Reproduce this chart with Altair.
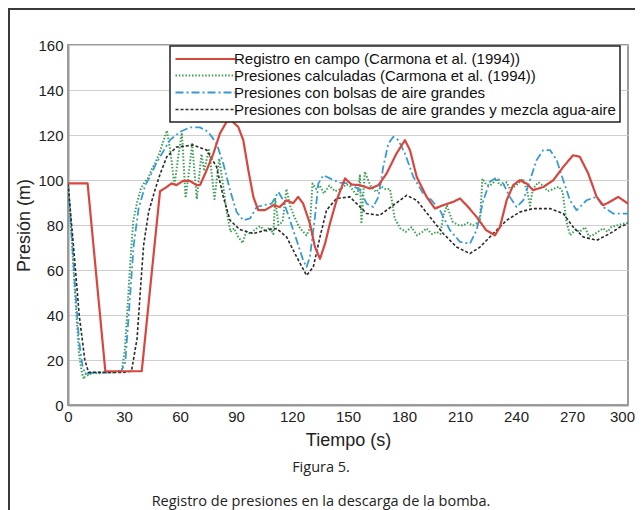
import altair as alt
import pandas as pd

series_names = [
    "Registro en campo (Carmona et al. (1994))",
    "Presiones calculadas (Carmona et al. (1994))",
    "Presiones con bolsas de aire grandes",
    "Presiones con bolsas de aire grandes y mezcla agua-aire",
]
series_colors = ["#d7463f", "#3f9f55", "#3a9bd2", "#2b2b2b"]
series_dashes = [[1, 0], [1.5, 1.8], [8, 3, 2, 3], [3, 2]]
series_widths = [2.2, 1.6, 1.7, 1.8]

x_ticks = [0, 30, 60, 90, 120, 150, 180, 210, 240, 270, 300]
y_ticks = [0, 20, 40, 60, 80, 100, 120, 140, 160]

# Registro en campo
campo_t = [0, 10.5, 20, 39.5, 49.3, 52.9, 55.5, 58, 61.7, 65.3, 68.9, 70.7, 74.3, 77.9, 81.4, 85,
           87.7, 91.2, 93.9, 96.6, 99.3, 101.9, 105.5, 110, 113.5, 117, 120.6, 123.3, 126, 129.6,
           132.3, 135, 137.7, 140.3, 143.9, 148.4, 151.9, 156.4, 161.8, 166.3, 170.7, 176, 180.5,
           183.2, 186.8, 192.1, 196.6, 201, 206.4, 210, 213.5, 218.9, 224, 228.7, 231.4, 235, 238.5,
           242, 245.7, 249.2, 254.6, 260, 265.3, 270.6, 274.2, 278.7, 283.2, 286.7, 290.3, 294.8, 300]
campo_p = [98.5, 98.5, 15, 15, 95, 96.9, 98.5, 97.7, 99.6, 99.6, 97.7, 97.7, 104.4, 111.8, 120.7, 125.9,
           126.3, 123.6, 117.7, 104.4, 92.5, 86.6, 86.6, 88.8, 88, 91, 89.7, 92.5, 89.5, 80.6,
           70.2, 65, 71.7, 80.6, 91, 100.7, 98, 97.7, 96.2, 97.7, 102.9, 111.8, 117.7,
           113.3, 101.4, 92.5, 87.3, 88.8, 90.3, 91.8, 88.8, 83.6, 77.7, 75.4, 79.1, 91, 97.7,
           99.9, 98.4, 95.5, 96.9, 99.9, 105.8, 111, 110.3, 102.9, 92.5, 88.8, 90.3, 92.5, 89.5]

# Presiones calculadas
calc_t = [0, 1.5, 3, 4.5, 6, 7.5, 8.5, 9.5, 11, 13, 16, 20, 24, 27, 29, 30.5, 32, 33.5, 35, 37, 39,
          41, 43, 45, 47, 49, 51, 53, 55, 57, 59, 61, 63, 65, 66.5, 69, 71.5, 73, 75.5, 78.5, 81,
          83, 85, 87, 89, 91, 93.5, 95.5, 98, 100, 103, 106, 108, 110, 111, 112.7, 115, 117, 119,
          121, 124.3, 127.8, 129.5, 131, 133, 135, 137, 140, 143, 146, 149, 151, 153, 155, 156.4,
          157.2, 159, 162, 165, 168, 170, 172.5, 175, 178, 181, 184, 187, 190, 192, 195, 197.5,
          199.5, 201, 203, 206, 209, 211.6, 214, 217, 220.7, 222, 224, 226, 228, 229.6, 231, 233,
          235, 236.7, 240, 243.7, 246, 247.5, 249, 252, 254.5, 257, 260, 263, 265, 267, 269, 272,
          274, 277, 279, 281, 284, 286.6, 289, 291, 294, 297, 300]
calc_p = [98.5, 80, 60, 40, 22, 14, 11.5, 14, 13, 14.5, 14, 14.5, 14.5, 15, 16, 25, 45, 65, 82, 90, 96,
          99, 101, 105, 108, 112, 117, 122, 112, 97.5, 110, 121, 92, 105, 116, 91.5, 111.5, 104, 114, 91.5, 109.5,
          98, 86, 77, 78.5, 75, 72, 77, 76, 78, 79.5, 77, 79, 76, 92, 80, 81.5, 96, 88.6,
          84, 78.5, 75.4, 78.5, 98.4, 96, 97.5, 94, 97.5, 95, 96, 98, 97.5, 95, 93, 102,
          80.5, 103.7, 97.5, 94.7, 97, 96, 96, 83, 78.5, 77, 79, 75.4, 77, 78.5, 76, 77,
          76, 84, 88.6, 81.5, 80, 79.8, 81, 79.8, 81.5, 100.6, 98, 97.5, 99, 100.6, 98, 97.5,
          99, 96, 97.5, 100.6, 95, 88.6, 96, 99, 97.5, 95, 96, 97, 94.7, 81.5, 75.4, 78,
          77, 79, 75, 75.4, 77, 78.5, 77, 79, 79.8, 80.5, 81]

# Presiones con bolsas de aire grandes
bolsas_t = [0, 2, 4, 6, 8, 10, 15, 20, 25, 28.5, 30.7, 33.4, 35.2, 37.8, 41.4, 43.9, 46.8, 49.3, 54.6, 60,
            65.3, 70.7, 75.1, 79.6, 83.2, 86.8, 90.3, 93.9, 97.5, 101.1, 104.6, 109.1, 112.7, 115.3,
            118.9, 122.5, 126, 127.8, 129.6, 132.3, 134.1, 136.8, 140.3, 145.7, 151, 156.4, 160, 163.5,
            166.3, 168.9, 171.6, 174.3, 177, 180.5, 185, 190.3, 194.8, 199.2, 204.6, 210, 215.3, 218.9,
            222.5, 226, 229.6, 233.2, 236.7, 240.3, 243.9, 247.5, 251, 254.6, 258.2, 261.8, 265.3,
            268.9, 272.5, 277.8, 283.2, 286.7, 292.1, 300]
bolsas_p = [98.5, 75, 50, 28, 16, 14, 14.5, 14.5, 14.5, 15, 19, 50, 71, 87.3, 97.7, 101.4, 106.6, 110.3, 117.7, 121.4,
            123.4, 123.4, 121.4, 116.2, 107.3, 95.5, 85.8, 82.1, 82.9, 88, 88.8, 89.5, 94.7, 91,
            82.1, 73.2, 64.3, 61.3, 65.8, 83.6, 98.4, 102.1, 100.7, 98.8, 98.4, 95.5, 89.5, 88,
            92.5, 105.8, 116.2, 119.2, 117.7, 111.8, 101.4, 94, 91, 86.6, 77.7, 72.5, 71.7, 77.7,
            91, 99.2, 101.1, 98.4, 92.5, 88, 91, 99.9, 108.8, 113.3, 113.3, 108.8, 99.9,
            91, 86.6, 91, 92.5, 88, 85.1, 85.1]

# Presiones con bolsas de aire grandes y mezcla agua-aire
mezcla_t = [0, 3, 6, 9, 11, 15, 20, 25, 30, 34, 37, 38.7, 40.5, 43.2, 46.8, 49.5, 52.9, 58.2, 67.1, 74.3,
            79.6, 83.2, 86.8, 92, 99.3, 106.4, 111.8, 117.1, 122.5, 127.8, 131.4, 135, 138.5, 143.9,
            151, 160, 167, 174.3, 181.4, 186.8, 193.9, 201, 208.2, 215.3, 220.7, 227.8, 235, 242.1,
            249.2, 258.2, 265.3, 270.6, 276, 283.2, 290.3, 295.7, 300]
mezcla_p = [98.5, 70, 40, 20, 14.5, 14.5, 14.5, 14.5, 14.5, 15, 29.5, 50.2, 71, 85.8, 96.2, 103, 110.3, 114.7, 115.5, 113.3,
            105.8, 92.5, 82.1, 78, 76.2, 77.7, 78.4, 74.7, 65.8, 57.6, 61.3, 74.7, 86.6, 91.8,
            92.5, 85.1, 84.3, 88.8, 93.2, 91, 83.6, 76.2, 70.2, 67.3, 70.2, 76.2, 82.1, 85.8,
            87.3, 87.3, 85.1, 79.1, 74.7, 73.2, 76.2, 79.1, 80.6]

# draw order: red (field record) on top
pairs = [(series_names[1], calc_t, calc_p),
         (series_names[2], bolsas_t, bolsas_p),
         (series_names[3], mezcla_t, mezcla_p),
         (series_names[0], campo_t, campo_p)]
rows = []
for name, ts, ps in pairs:
    for i, (t, p) in enumerate(zip(ts, ps)):
        rows.append({"serie": name, "t": t, "p": p, "i": i})
df = pd.DataFrame(rows)

lines = alt.Chart(df).mark_line(clip=True, strokeJoin="round").encode(
    x=alt.X("t:Q", scale=alt.Scale(domain=[0, 300], nice=False),
            axis=alt.Axis(values=x_ticks, title="Tiempo (s)", grid=False, labelFlush=False,
                          labelOffset={"condition": {"test": "datum.value == 300", "value": -6}, "value": 0},
                          labelPadding=4, titlePadding=7)),
    y=alt.Y("p:Q", scale=alt.Scale(domain=[0, 160], nice=False),
            axis=alt.Axis(values=y_ticks, title="Presión (m)", grid=True,
                          labelPadding=5, titlePadding=4)),
    color=alt.Color("serie:N", scale=alt.Scale(domain=series_names, range=series_colors),
                    legend=alt.Legend(title=None)),
    strokeDash=alt.StrokeDash("serie:N", scale=alt.Scale(domain=series_names, range=series_dashes),
                              legend=alt.Legend(title=None)),
    strokeWidth=alt.StrokeWidth("serie:N", scale=alt.Scale(domain=series_names, range=series_widths),
                                legend=None),
    order="i:Q",
)

one = alt.InlineData(values=[{"k": 1}])
frame_top = alt.Chart(one).mark_rule(color="#3a3a3a", strokeWidth=2).encode(
    x=alt.value(-60), x2=alt.value(580), y=alt.value(-36))
frame_left = alt.Chart(one).mark_rule(color="#3a3a3a", strokeWidth=2).encode(
    x=alt.value(-59), y=alt.value(-37), y2=alt.value(470))

cap1 = alt.Chart(one).mark_text(font="Open Sans", fontSize=14.5, color="#222", align="center",
                                baseline="middle").encode(
    x=alt.value(253), y=alt.value(423), text=alt.value("Figura 5."))
cap2 = alt.Chart(one).mark_text(font="Open Sans", fontSize=14.5, color="#222", align="center",
                                baseline="middle").encode(
    x=alt.value(253), y=alt.value(457), text=alt.value("Registro de presiones en la descarga de la bomba."))

chart = alt.layer(lines, frame_top, frame_left, cap1, cap2).properties(
    width=560, height=360,
    autosize=alt.AutoSizeParams(type="none"),
    padding={"left": 60, "top": 37, "right": 7, "bottom": 105},
    background="white",
).configure_view(
    stroke="#9a9a9a", strokeWidth=2
).configure_axis(
    labelFont="Liberation Sans", labelFontSize=15, labelColor="#222",
    titleFont="Liberation Sans", titleFontSize=18, titleFontWeight="normal", titleColor="#222",
    ticks=False, domainColor="#9a9a9a", domainWidth=2,
    gridColor="#cfcfcf", gridWidth=1,
).configure_legend(
    orient="none", legendX=102, legendY=1,
    fillColor="white", strokeColor="#222", strokeWidth=1.5, padding=4,
    symbolType="M-1,0H7", symbolSize=225, symbolStrokeWidth=2,
    labelFont="Liberation Sans", labelFontSize=15, labelColor="#111", labelLimit=600,
    labelOffset=42, rowPadding=0,
)

chart.save("out.html", embed_options={"renderer": "svg", "actions": False})
